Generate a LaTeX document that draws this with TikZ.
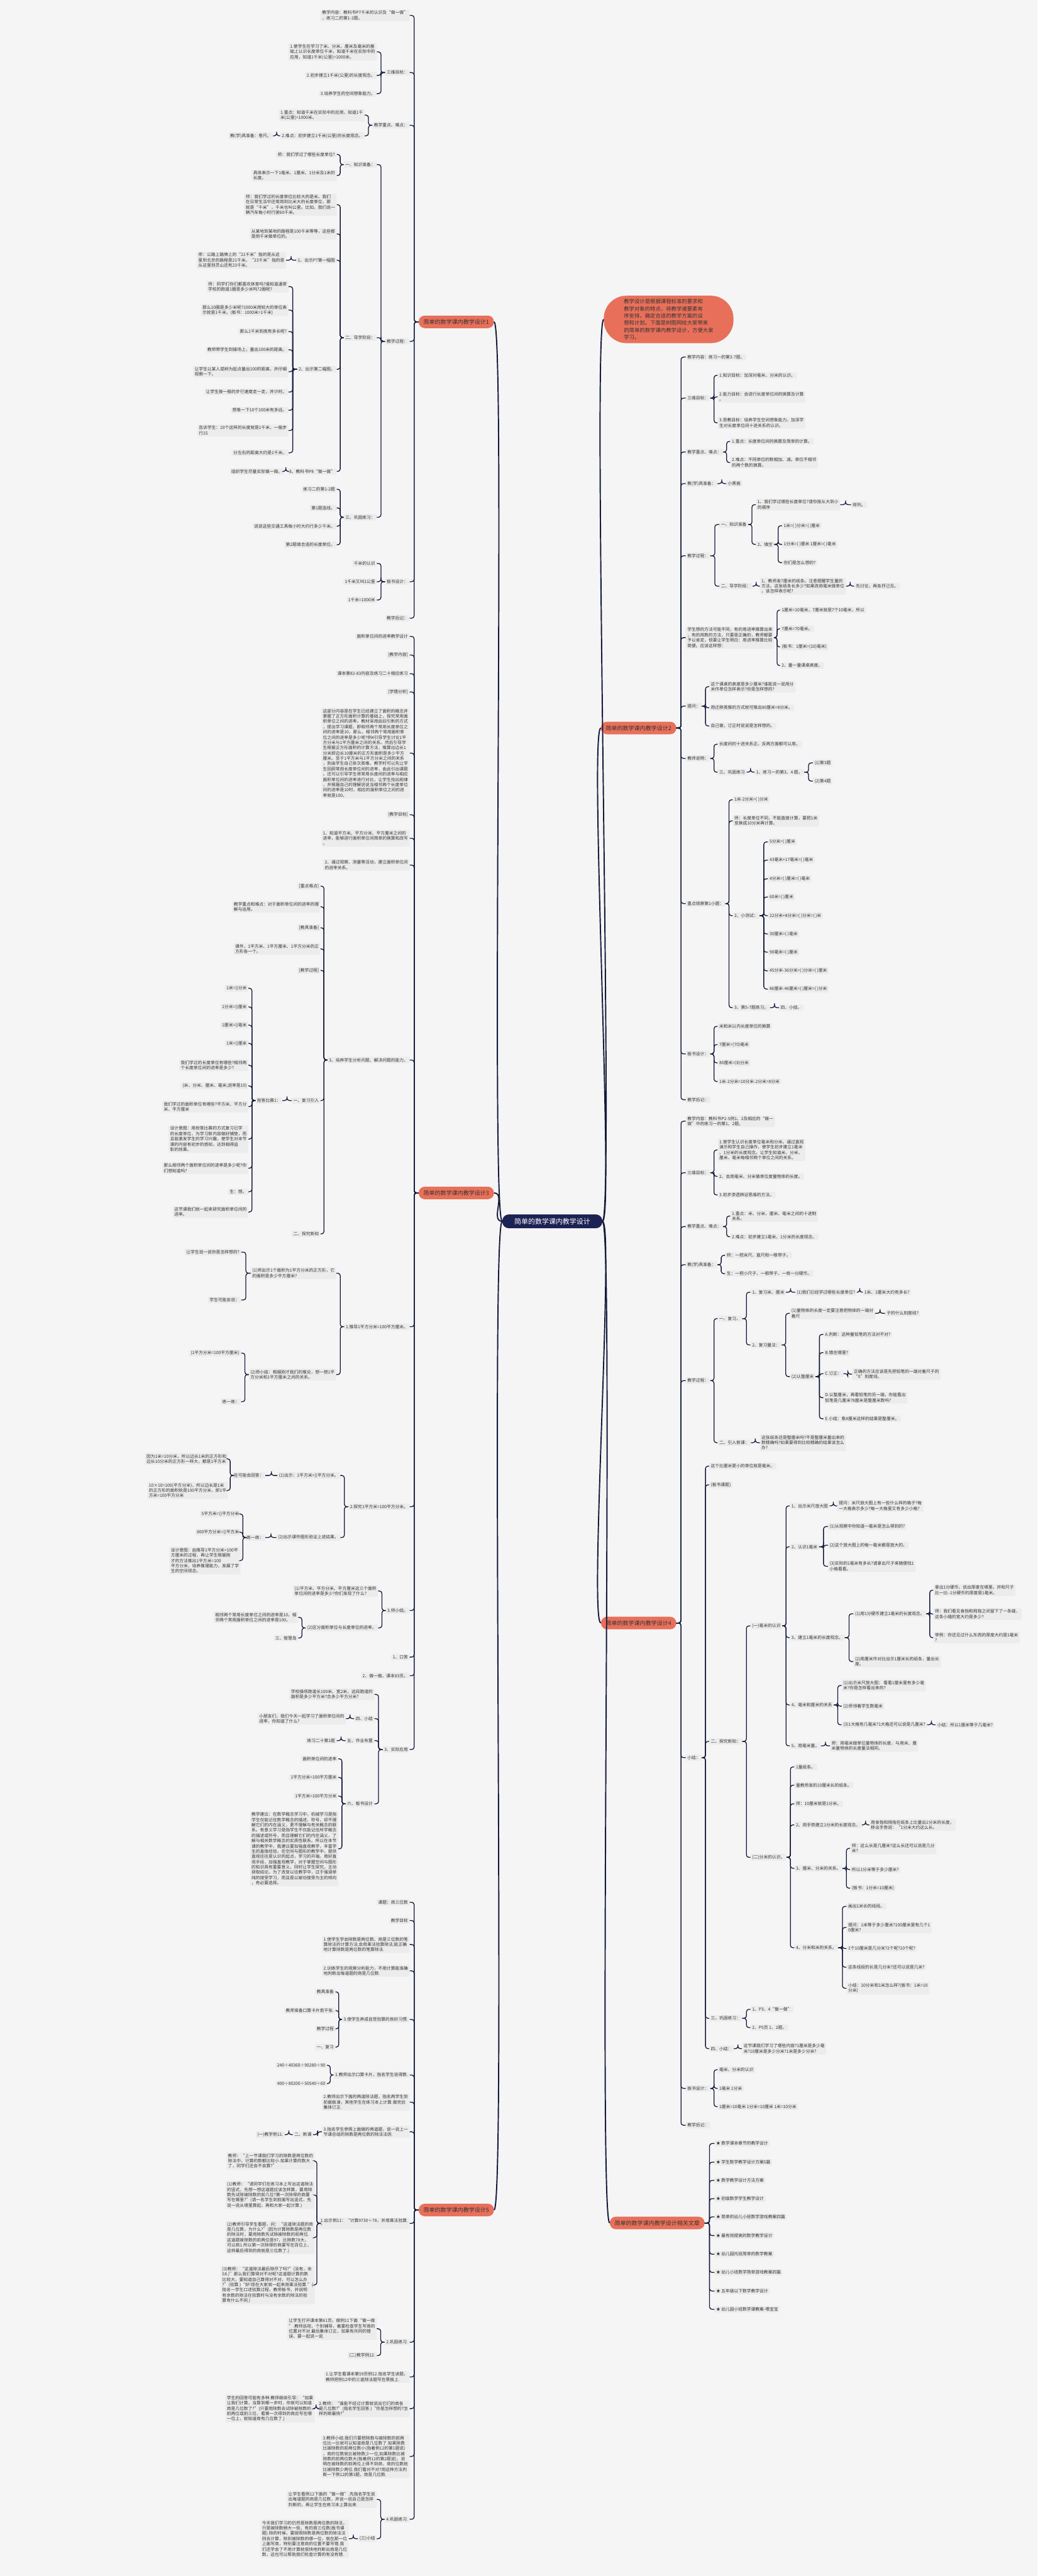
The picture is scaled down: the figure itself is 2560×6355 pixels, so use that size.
\documentclass[tikz,border=0pt]{standalone}
\usepackage{fontspec}
\setmainfont{Noto Sans CJK SC}
\usetikzlibrary{calc}
\definecolor{bgc}{HTML}{F5F5F5}
\definecolor{boxc}{HTML}{ECECEC}
\definecolor{topicc}{HTML}{E8705A}
\definecolor{rootc}{HTML}{1C2354}
\definecolor{linec}{HTML}{151A3C}
\definecolor{txtc}{HTML}{333333}
\newcommand\fs{\fontsize{10.5}{13}\selectfont}
\newcommand\lk[2]{\draw[link] (#1.west) -| ($(#1.west)!.5!(#2.east)$) |- (#2.east);}
\newcommand\rk[2]{\draw[link] (#1.east) -| ($(#1.east)!.5!(#2.west)$) |- (#2.west);}

\begin{document}
\begin{tikzpicture}[x=1pt, y=-1pt,
    box/.style={fill=boxc, text=txtc, inner xsep=4pt, inner ysep=3pt, align=left, font=\fs, rounded corners=2pt},
    lt/.style={box, anchor=east},
    rt/.style={box, anchor=west},
    topic/.style={fill=topicc, text=txtc, rounded corners=15pt, minimum height=31pt, inner xsep=12pt, font=\fontsize{14}{17}\selectfont},
    root/.style={fill=rootc, text=white, rounded corners=16pt, minimum height=34pt, inner xsep=30pt, font=\fontsize{17}{20}\selectfont},
    intro/.style={fill=topicc, text=txtc, rounded corners=56pt, minimum width=320pt, minimum height=117pt, align=left, font=\fontsize{13}{17.7}\selectfont},
    link/.style={draw=linec, line width=2pt, rounded corners=6pt},
    trunk/.style={draw=linec, line width=3pt}
  ]
\useasboundingbox (0,0) rectangle (2560,6355);
\fill[bgc] (0,0) rectangle (2560,6355);

\node[root] (c) at (1363,3013) {简单的数学课内教学设计};
\node[intro] (d) at (1650,788) {教学设计是根据课程标准的要求和\\教学对象的特点，将教学诸要素有\\序安排，确定合适的教学方案的设\\想和计划。下面是树图网给大家带来\\的简单的数学课内教学设计，方便大家\\学习。};
\node[topic,anchor=west] (l1) at (1033,794) {简单的数学课内教学设计1};
\node[topic,anchor=east] (r2) at (1669,1796) {简单的数学课内教学设计2};
\node[topic,anchor=west] (l3) at (1033,2943) {简单的数学课内教学设计3};
\node[topic,anchor=east] (r4) at (1669,4004) {简单的数学课内教学设计4};
\node[topic,anchor=west] (l5) at (1033,5452) {简单的数学课内教学设计5};
\node[topic,anchor=east] (r6) at (1739,5484) {简单的数学课内教学设计相关文章};

% design 1
\node[lt] (l1a) at (1011,38) {教学内容：教科书P7千米的认识及“做一做”\\，练习二的第1-2题。};
\node[lt] (l1b) at (1011,179) {三维目标：};
\node[lt] (l1b1) at (930,128) {1.使学生在学习了米、分米、厘米及毫米的基\\础上认识长度单位千米，知道千米在实际中的\\应用，知道1千米(公里)=1000米。};
\node[lt] (l1b2) at (930,186) {2.初步建立1千米(公里)的长度观念。};
\node[lt] (l1b3) at (930,231) {3.培养学生的空间想象能力。};
\node[lt] (l1c) at (1011,309) {教学重点、难点：};
\node[lt] (l1c1) at (900,284) {1.重点：知道千米在实际中的应用，知道1千\\米(公里)=1000米。};
\node[lt] (l1c2) at (900,335) {2.难点：初步建立1千米(公里)的长度观念。};
\node[lt] (l1c2a) at (674,335) {教(学)具准备：卷尺。};
\node[lt] (l1d) at (1011,842) {教学过程：};
\node[lt] (l1d1) at (930,406) {一、知识准备：};
\node[lt] (l1d1a) at (831,381) {师：我们学过了哪些长度单位?};
\node[lt] (l1d1b) at (831,433) {具体表示一下1毫米、1厘米、1分米及1米的\\长度。};
\node[lt] (l1d2) at (930,833) {二、导学阶段：};
\node[lt] (l1d2a) at (831,505) {师：我们学过的长度单位比较大的是米。我们\\在日常生活中还常用到比米大的长度单位，那\\就是“千米”，千米也叫公里。比如，我们说一\\辆汽车每小时行驶60千米。};
\node[lt] (l1d2b) at (831,577) {从某地到某地的路程是100千米等等，这些都\\是用千米做单位的。};
\node[lt] (l1d2c) at (831,642) {1、出示P7第一幅图};
\node[lt] (l1d2c1) at (706,642) {师：公路上路牌上的“21千米”指的是从这\\里到北京的路程是21千米。“23千米”指的是\\从这里到灵山还有23千米。};
\node[lt] (l1d2d) at (831,911) {2、出示第二幅图。};
\node[lt] (l1d2d1) at (712,707) {师：同学们你们都喜欢体育吗?谁知道通常\\学校的跑道1圈是多少米吗?2圈呢?};
\node[lt] (l1d2d2) at (712,765) {那么10圈是多少米呢?1000米用较大的单位表\\示就是1千米。(板书：1000米=1千米)};
\node[lt] (l1d2d3) at (712,818) {那么1千米到底有多长呢?};
\node[lt] (l1d2d4) at (712,863) {教师带学生到操场上，量出100米的距离。};
\node[lt] (l1d2d5) at (712,917) {让学生以某人或树为起点量出100的距离，并仔细\\观察一下。};
\node[lt] (l1d2d6) at (712,967) {让学生按一般的步行速度走一走，并计时。};
\node[lt] (l1d2d7) at (712,1012) {想象一下10个100米有多远。};
\node[lt] (l1d2d8) at (712,1062) {告诉学生：10个这样的长度就是1千米，一般步\\行15};
\node[lt] (l1d2d9) at (712,1117) {分左右的距离大约是1千米。};
\node[lt] (l1d2e) at (831,1163) {3、教科书P8“做一做”};
\node[lt] (l1d2e1) at (701,1163) {组织学生尽量实际做一做。};
\node[lt] (l1d3) at (930,1276) {三、巩固练习：};
\node[lt] (l1d3a) at (831,1207) {练习二的第1-2题};
\node[lt] (l1d3b) at (831,1253) {第1题连线。};
\node[lt] (l1d3c) at (831,1298) {说说这些交通工具每小时大约行多少千米。};
\node[lt] (l1d3d) at (831,1344) {第2题填合适的长度单位。};
\node[lt] (l1e) at (1011,1435) {板书设计：};
\node[lt] (l1e1) at (930,1390) {千米的认识};
\node[lt] (l1e2) at (930,1435) {1千米又叫1公里};
\node[lt] (l1e3) at (930,1480) {1千米=1000米};
\node[lt] (l1f) at (1011,1525) {教学后记：};

% design 3
\node[lt] (l3a) at (1011,1570) {面积单位间的进率教学设计};
\node[lt] (l3b) at (1011,1616) {[教学内容]};
\node[lt] (l3c) at (1011,1662) {课本第82-83内容及练习二十相应练习};
\node[lt] (l3d) at (1011,1707) {[学情分析]};
\node[lt] (l3e) at (1011,1858) {这部分内容是在学生已经建立了面积的概念并\\掌握了正方形面积计算的基础上，探究常用面\\积单位之间的进率。教材采用由旧引新的方式\\，提出学习课题，即相邻两个常用长度单位之\\间的进率是10，那么，相邻两个常用面积单\\位之间的进率是多少呢?例4引导学生讨论1平\\方分米与1平方厘米之间的关系。然后引导学\\生根据正方形面积的计算方法，推算出边长1\\分米即边长10厘米的正方形面积是多少平方\\厘米。至于1平方米与1平方分米之间的关系\\，则由学生自己依次类推。教学时可以先让学\\生回顾常用长度单位间的进率，由此引出课题\\。还可以引导学生将常用长度间的进率与相应\\面积单位间的进率进行对比，让学生找出规律\\，并根据自己的理解说说当相邻两个长度单位\\间的进率是10时，相应的面积单位之间的进\\率就是100。};
\node[lt] (l3f) at (1011,2010) {[教学目标]};
\node[lt] (l3g) at (1011,2068) {1、知道平方米、平方分米、平方厘米之间的\\进率，能够进行面积单位间简单的换算和改写\\。};
\node[lt] (l3h) at (1011,2134) {2、通过观察、测量等活动，建立面积单位间\\的进率关系。};
\node[lt] (l3i) at (1011,2615) {3、培养学生分析问题、解决问题的能力。};
\node[lt] (l3i1) at (791,2186) {[重点难点]};
\node[lt] (l3i2) at (791,2237) {教学重点和难点：对于面积单位间的进率的理\\解与运用。};
\node[lt] (l3i3) at (791,2289) {[教具准备]};
\node[lt] (l3i4) at (791,2341) {课件，1平方米、1平方厘米、1平方分米的正\\方形各一个。};
\node[lt] (l3i5) at (791,2394) {[教学过程]};
\node[lt] (l3i6) at (791,2715) {一、复习引入};
\node[lt] (l3i6a) at (697,2715) {抢答比赛1：};
\node[lt] (l3q1) at (613,2438) {1米=()分米};
\node[lt] (l3q2) at (613,2484) {1分米=()厘米};
\node[lt] (l3q3) at (613,2529) {1厘米=()毫米};
\node[lt] (l3q4) at (613,2574) {1米=()厘米};
\node[lt] (l3q5) at (613,2628) {我们学过的长度单位有哪些?相邻两\\个长度单位间的进率是多少?};
\node[lt] (l3q6) at (613,2679) {(米、分米、厘米、毫米;进率是10)};
\node[lt] (l3q7) at (613,2730) {我们学过的面积单位有哪些?平方米、平方分\\米、平方厘米};
\node[lt] (l3q8) at (613,2810) {设计意图：用抢答比赛的方式复习已学\\的长度单位，为学习新内容做好铺垫，而\\且能激发学生的学习兴趣，使学生对本节\\课的内容有初步的感知，达到相得益\\彰的效果。};
\node[lt] (l3q9) at (613,2882) {那么相邻两个面积单位间的进率是多少呢?你\\们想知道吗?};
\node[lt] (l3q10) at (613,2940) {生：想。};
\node[lt] (l3q11) at (613,2990) {这节课我们就一起来研究面积单位间的\\进率。};
\node[lt] (l3i7) at (791,3044) {二、探究新知};
\node[lt] (l3j) at (1011,3273) {1.推导1平方分米=100平方厘米。};
\node[lt] (l3j1) at (830,3141) {(1)师出示1个面积为1平方分米的正方形，它\\的面积是多少平方厘米?};
\node[lt] (l3j1a) at (595,3089) {让学生说一说你是怎样想的?};
\node[lt] (l3j1b) at (595,3207) {学生可能会说：};
\node[lt] (l3j2) at (830,3391) {(2)师小结：根据刚才我们的推论，想一想1平\\方分米和1平方厘米之间的关系。};
\node[lt] (l3j2a) at (595,3338) {(1平方分米=100平方厘米)};
\node[lt] (l3j2b) at (595,3458) {练一练：};
\node[lt] (l3k) at (1011,3717) {2.探究1平方米=100平方分米。};
\node[lt] (l3k1) at (840,3640) {(1)出示：1平方米=()平方分米。};
\node[lt] (l3k1a) at (655,3640) {生可能会回答：};
\node[lt] (l3k1a1) at (563,3599) {因为1米=10分米，所以边长1米的正方形和\\边长10分米的正方形一样大，都是1平方米};
\node[lt] (l3k1a2) at (563,3677) {10×10=100(平方分米)，所以边长是1米\\的正方形的面积就是100平方分米，即1平\\方米=100平方分米};
\node[lt] (l3k2) at (840,3793) {(2)出示课件图形验证上述结果。};
\node[lt] (l3k2a) at (655,3793) {练一练：};
\node[lt] (l3k2a1) at (594,3735) {5平方米=()平方分米};
\node[lt] (l3k2a2) at (594,3780) {800平方分米=()平方米};
\node[lt] (l3k2a3) at (594,3850) {设计意图：由推导1平方分米=100平\\方厘米的过程，再让学生根据刚\\才的方法推出1平方米=100\\平方分米，培养推理能力，发展了学\\生的空间观念。};
\node[lt] (l3l) at (1011,3973) {3.师小结。};
\node[lt] (l3l1) at (933,3925) {(1)平方米、平方分米、平方厘米这三个面积\\单位间的进率是多少?你们发现了什么?};
\node[lt] (l3l2) at (933,4016) {(2)区分面积单位与长度单位的进率。};
\node[lt] (l3l2a) at (736,3990) {相邻两个常用长度单位之间的进率是10，相\\邻两个常用面积单位之间的进率是100。};
\node[lt] (l3l2b) at (736,4041) {三、智慧岛};
\node[lt] (l3m) at (1011,4088) {1、口答};
\node[lt] (l3n) at (1011,4134) {2、做一做。课本83页。};
\node[lt] (l3o) at (1011,4316) {3、实际应用};
\node[lt] (l3o1) at (924,4180) {学校操场跑道长100米、宽2米，这段跑道的\\面积是多少平方米?合多少平方分米?};
\node[lt] (l3o2) at (924,4240) {四、小结};
\node[lt] (l3o2a) at (854,4240) {小朋友们，我们今天一起学习了面积单位间的\\进率，你知道了什么?};
\node[lt] (l3o3) at (924,4294) {五、作业布置};
\node[lt] (l3o3a) at (831,4294) {练习二十第1题};
\node[lt] (l3o4) at (924,4450) {六、板书设计};
\node[lt] (l3o4a) at (835,4339) {面积单位间的进率};
\node[lt] (l3o4b) at (835,4385) {1平方分米=100平方厘米};
\node[lt] (l3o4c) at (835,4431) {1平方米=100平方分米};
\node[lt] (l3o4d) at (835,4561) {教学建议：在数学概念学习中，机械学习是指\\学生仅能记住数学概念的描述、符号，却不理\\解它们的内在涵义，更不理解与有关概念的联\\系。有意义学习是指学生不仅能记住所学概念\\的描述或符号，而且理解它们的内在涵义，了\\解与相关数学概念的实质性联系。所以在本节\\课的教学中，我建议要加强直观教学，丰富学\\生的直接经验。在空间与图形的教学中，提供\\直观往往是认识的起点，学习的开端。用好直\\观手段，加强直观教学，对于掌握空间与图形\\的知识具有重要意义。同时让学生探究，主动\\获取结论。为了改变以往教学中，过于强调单\\纯的接受学习，而且是以被动接受为主的倾向\\，有必要选择。};

% design 5
\node[lt] (l5a) at (1011,4693) {课题：商三位数};
\node[lt] (l5b) at (1011,4738) {教学目标};
\node[lt] (l5c) at (1011,4797) {1.使学生学会除数是两位数、商是三位数的笔\\算除法的计算方法;会用乘法验算除法;能正确\\地计算除数是两位数的笔算除法.};
\node[lt] (l5d) at (1011,4862) {2.训练学生的观察分析能力，不用计算能准确\\地判断出每道题的商是几位数.};
\node[lt] (l5e) at (1011,4982) {3.使学生养成自觉验算的良好习惯.};
\node[lt] (l5e1) at (828,4914) {教具准备};
\node[lt] (l5e2) at (828,4960) {教师准备口算卡片若干张.};
\node[lt] (l5e3) at (828,5005) {教学过程};
\node[lt] (l5e4) at (828,5050) {一、复习};
\node[lt] (l5f) at (1011,5119) {1.教师出示口算卡片，指名学生说得数.};
\node[lt] (l5f1) at (807,5095) {240÷40360÷90280÷90};
\node[lt] (l5f2) at (807,5140) {400÷80200÷50540÷60};
\node[lt] (l5g) at (1011,5186) {2.教师出示下面的两道除法题，指名两学生到\\前面板演，其他学生在练习本上计算.做完后\\集体订正.};
\node[lt] (l5h) at (1011,5259) {3.指名学生参照上面做的两道题，说一说上一\\节课总结的除数是两位数的除法法则.};
\node[lt] (l5h1) at (773,5266) {二、新课};
\node[lt] (l5h1a) at (703,5266) {(一)教学例11.};
\node[lt] (l5i) at (1011,5485) {1.出示例11：“计算9730÷78，并用乘法验算.\\”};
\node[lt] (l5i1) at (777,5331) {教师：“上一节课我们学习的除数是两位数的\\除法中，计算的数都比较小.如果计算的数大\\了，同学们还会不会算?”};
\node[lt] (l5i2) at (777,5415) {(1)教师：“请同学们在练习本上写出这道除法\\的竖式，先想一想这道题应该怎样算，要用除\\数先试除被除数的前几位?第一次除得的商要\\写在哪里?”(请一名学生到前面写出竖式，先\\说一说从哪里算起，再和大家一起计算.)};
\node[lt] (l5i3) at (777,5520) {(2)教师引导学生看题，问：“这道除法题的商\\是几位数，为什么?”(因为计算除数是两位数\\的除法时，要用除数先试除被除数的前两位.\\这道题被除数的前两位是97，比除数78大，\\可以商1.所以第一次除得的商要写在百位上，\\这样最后得到的商就是三位数了.)};
\node[lt] (l5i4) at (777,5637) {(3)教师：“这道除法最后除尽了吗?”(没有，余\\58.)”那么我们算得对不对呢?这道题计算的数\\比较大，要知道自己算得对不对，可以怎么办\\?”(验算.)“好!现在大家就一起来用乘法验算.”(\\指名一学生口述验算过程，教师板书，并说明\\有余数的除法在验算时与没有余数的除法的验\\算有什么不同.)};
\node[lt] (l5j) at (1011,5778) {2.巩固练习.};
\node[lt] (l5j1) at (930,5745) {让学生打开课本第61页，做例11下面“做一做\\”.教师巡视，个别辅导，着重检查学生写商的\\位置对不对.最后集体订正，如果有共同的错\\误，要一起说一说.};
\node[lt] (l5j2) at (930,5811) {(二)教学例12.};
\node[lt] (l5k) at (1011,5864) {1.让学生看课本第59页例12.指名学生读题，\\教师把例12中的三道除法题写在黑板上.};
\node[lt] (l5l) at (1011,5942) {2.教师：“谁能不经过计算就说出它们的商各\\是几位数?”(指名学生回答.)“你是怎样想的?怎\\样判断最快?”};
\node[lt] (l5l1) at (777,5942) {学生的回答可能有多种.教师继续引导：“如果\\让我们计算，当算到哪一步时，你就可以知道\\商是几位数了?”(只要用除数去试除被除数的\\前两位或前三位，看第一次得到的商应写在哪\\一位上，就知道商有几位数了.)};
\node[lt] (l5m) at (1011,6060) {3.教师小结.我们只要把除数与被除数的前两\\位比一比就可以知道商是几位数了.如果除数\\比被除数的前两位数小(指着例12的第1题说)\\，商的位数就比被除数少一位;如果除数比被\\除数的前两位数大(指着例12的第2题说)，说\\明在被除数的前两位上得不到商，商的位数就\\比被除数少两位.我们看对不对?用这种方法判\\断一下例12的第3题，商是几位数.};
\node[lt] (l5n) at (1011,6215) {4.巩固练习.};
\node[lt] (l5n1) at (930,6166) {让学生看例12下面的“做一做”.先指名学生说\\出每道题的商是几位数，并说一说自己是怎样\\判断的，再让学生在练习本上算出来.};
\node[lt] (l5n2) at (930,6263) {(三)小结};
\node[lt] (l5n2a) at (861,6263) {今天我们学习的仍然是除数是两位数的除法，\\只是被除数稍大一些，有的商三位数(板书课\\题).除的时候，要按照除数是两位数的除法法\\则去计算，除到被除数的哪一位，就在那一位\\上面写商，特别要注意商的位置不要写错.我\\们还学会了不用计算就很快地判断出商是几位\\数，这也可以帮助我们检查计算的有没有错.};

% design 2
\node[rt] (r2a) at (1692,881) {教学内容：练习一的第3-7题。};
\node[rt] (r2b) at (1692,982) {三维目标：};
\node[rt] (r2b1) at (1771,926) {1.知识目标：加深对毫米、分米的认识。};
\node[rt] (r2b2) at (1771,979) {2.能力目标：会进行长度单位间的换算及计算\\。};
\node[rt] (r2b3) at (1771,1043) {3.思教目标：培养学生空间想象能力。加深学\\生对长度单位间十进关系的认识。};
\node[rt] (r2c) at (1692,1115) {教学重点、难点：};
\node[rt] (r2c1) at (1802,1089) {1.重点：长度单位间的换算及简单的计算。};
\node[rt] (r2c2) at (1802,1141) {2.难点：不同单位的数相加、减。单位不相邻\\的两个数的换算。};
\node[rt] (r2d) at (1692,1193) {教(学)具准备：};
\node[rt] (r2d1) at (1792,1193) {小黑板};
\node[rt] (r2e) at (1692,1371) {教学过程：};
\node[rt] (r2e1) at (1775,1294) {一、知识准备};
\node[rt] (r2e1a) at (1865,1245) {1、我们学过哪些长度单位?请你按从大到小\\的顺序};
\node[rt] (r2e1a1) at (2100,1245) {排列。};
\node[rt] (r2e1b) at (1865,1343) {2、填空};
\node[rt] (r2e1b1) at (1930,1297) {1米=( )分米=( )厘米};
\node[rt] (r2e1b2) at (1930,1343) {1分米=( )厘米 1厘米=( )毫米};
\node[rt] (r2e1b3) at (1930,1388) {你们是怎么想的?};
\node[rt] (r2e2) at (1775,1446) {二、导学阶段：};
\node[rt] (r2e2a) at (1875,1446) {1、教师发7厘米的纸条。注意提醒学生量的\\方法。这张纸条长多少?如果改用毫米做单位\\，该怎样表示呢?};
\node[rt] (r2e2a1) at (2108,1446) {先讨论，再各抒己见。};
\node[rt] (r2f) at (1692,1573) {学生想的方法可能不同，有的用进率推算出来\\，有的用数的方法，只要是正确的，教师都要\\予以肯定，但要让学生明白：用进率推算比较\\简便。应该这样想：};
\node[rt] (r2f1) at (1925,1505) {1厘米=10毫米，7厘米就是7个10毫米，所以};
\node[rt] (r2f2) at (1925,1551) {7厘米=70毫米。};
\node[rt] (r2f3) at (1925,1596) {(板书：1厘米=(10)毫米)};
\node[rt] (r2f4) at (1925,1642) {2、量一量课桌高度。};
\node[rt] (r2g) at (1692,1742) {提问：};
\node[rt] (r2g1) at (1750,1694) {这个课桌的高度是多少厘米?谁能说一说用分\\米作单位怎样表示?你是怎样想的?};
\node[rt] (r2g2) at (1750,1746) {用迁移类推的方式就可推出80厘米=8分米。};
\node[rt] (r2g3) at (1750,1791) {自己做，订正时说说是怎样想的。};
\node[rt] (r2h) at (1692,1871) {教师说明：};
\node[rt] (r2h1) at (1771,1836) {长度间的十进关系正、反两方面都可以用。};
\node[rt] (r2h2) at (1771,1905) {三、巩固练习};
\node[rt] (r2h2a) at (1862,1905) {1、练习一的第3、4 题。};
\node[rt] (r2h2a1) at (2006,1882) {(1)第3题};
\node[rt] (r2h2a2) at (2006,1927) {(2)第4题};
\node[rt] (r2i) at (1692,2229) {重点观察第1小题：};
\node[rt] (r2i1) at (1808,1973) {1米-2分米=( )分米};
\node[rt] (r2i2) at (1808,2025) {师：长度单位不同，不能直接计算，要把1米\\变换成10分米再计算。};
\node[rt] (r2i3) at (1808,2259) {2、小测试：};
\node[rt] (r2t1) at (1895,2077) {5分米=( )厘米};
\node[rt] (r2t2) at (1895,2122) {43毫米+17毫米=( )毫米};
\node[rt] (r2t3) at (1895,2168) {4分米=( )厘米=( )毫米};
\node[rt] (r2t4) at (1895,2213) {60米=( )厘米};
\node[rt] (r2t5) at (1895,2259) {22分米+8分米=( )分米=( )米};
\node[rt] (r2t6) at (1895,2304) {30厘米=( )毫米};
\node[rt] (r2t7) at (1895,2349) {90毫米=( )厘米};
\node[rt] (r2t8) at (1895,2395) {45分米-36分米=( )分米=( )厘米};
\node[rt] (r2t9) at (1895,2440) {86厘米-46厘米=( )厘米=( )分米};
\node[rt] (r2i4) at (1808,2486) {3、第5-7题练习。};
\node[rt] (r2i4a) at (1922,2486) {四、小结。};
\node[rt] (r2j) at (1692,2600) {板书设计：};
\node[rt] (r2j1) at (1771,2532) {米和米以内长度单位的换算};
\node[rt] (r2j2) at (1771,2577) {7厘米=(70)毫米};
\node[rt] (r2j3) at (1771,2622) {80厘米=(8)分米};
\node[rt] (r2j4) at (1771,2668) {1米-2分米=10分米-2分米=8分米};
\node[rt] (r2k) at (1692,2713) {教学后记：};

% design 4
\node[rt] (r4a) at (1692,2766) {教学内容：教科书P2-5例1、2及相应的“做一\\做”中的练习一的第1、2题。};
\node[rt] (r4b) at (1692,2893) {三维目标：};
\node[rt] (r4b1) at (1771,2837) {1.使学生认识长度单位毫米和分米。通过直观\\演示和学生自己操作，使学生初步建立1毫米\\、1分米的长度观念。让学生知道米、分米、\\厘米、毫米每相邻两个单位之间的关系。};
\node[rt] (r4b2) at (1771,2902) {2、会用毫米、分米做单位度量物体的长度。};
\node[rt] (r4b3) at (1771,2948) {3.初步渗透辨证思维的方法。};
\node[rt] (r4c) at (1692,3026) {教学重点、难点：};
\node[rt] (r4c1) at (1802,3000) {1.重点：米、分米、厘米、毫米之间的十进制\\关系。};
\node[rt] (r4c2) at (1802,3051) {2.难点：初步建立1毫米、1分米的长度观念。};
\node[rt] (r4d) at (1692,3120) {教(学)具准备：};
\node[rt] (r4d1) at (1789,3097) {师：一把米尺、直尺和一根带子。};
\node[rt] (r4d2) at (1789,3142) {生：一把小尺子、一根带子、一枚一分硬币。};
\node[rt] (r4e) at (1692,3406) {教学过程：};
\node[rt] (r4e1) at (1771,3253) {一、复习、};
\node[rt] (r4e1a) at (1852,3188) {1、复习米、厘米};
\node[rt] (r4e1a1) at (1962,3188) {(1)我们已经学过哪些长度单位?};
\node[rt] (r4e1a2) at (2129,3188) {1米、1厘米大约有多长?};
\node[rt] (r4e1b) at (1852,3318) {2、复习量法：};
\node[rt] (r4e1b1) at (1949,3240) {(1)量物体的长度一定要注意把物体的一端对\\着尺};
\node[rt] (r4e1b1a) at (2184,3240) {子的什么刻度线?};
\node[rt] (r4e1b2) at (1949,3396) {(2)认整厘米};
\node[rt] (r4m1) at (2032,3292) {A.判断：这种量铅笔的方法对不对?};
\node[rt] (r4m2) at (2032,3337) {B.错在哪里?};
\node[rt] (r4m3) at (2032,3389) {C.订正：};
\node[rt] (r4m3a) at (2103,3390) {正确的方法应该是先把铅笔的一端对着尺子的\\“0”刻度线。};
\node[rt] (r4m4) at (2032,3448) {D.认整厘米，再看铅笔的另一端，你能看出\\铅笔是几厘米?8厘米是整厘米数吗?};
\node[rt] (r4m5) at (2032,3500) {E.小结：象8厘米这样的结果是整厘米。};
\node[rt] (r4e2) at (1771,3559) {二、引入新课：};
\node[rt] (r4e2a) at (1875,3559) {这张纸条还是整厘米吗?不是整厘米量出来的\\数精确吗?如果要得到比较精确的结果该怎么\\办?};
\node[rt] (r4f) at (1692,4336) {小结：};
\node[rt] (r4f1) at (1750,3617) {这个比厘米更小的单位就是毫米。};
\node[rt] (r4f2) at (1750,3663) {(板书课题)};
\node[rt] (r4f3) at (1750,4296) {二、探究新知：};
\node[rt] (r4f3a) at (1852,4011) {(一)毫米的认识};
\node[rt] (r4mm1) at (1949,3715) {1、出示米尺放大图};
\node[rt] (r4mm1a) at (2066,3715) {提问：米尺放大图上有一些什么样的格子?每\\一大格表示多少?每一大格里又有多少小格?};
\node[rt] (r4mm2) at (1949,3816) {2、认识1毫米};
\node[rt] (r4mm2a) at (2043,3766) {(1)从观察中你知道一毫米是怎么得到的?};
\node[rt] (r4mm2b) at (2043,3812) {(2)这个放大图上的每一毫米都是放大的。};
\node[rt] (r4mm2c) at (2043,3864) {(3)实际的1毫米有多长?请拿出尺子来随便找1\\小格看看。};
\node[rt] (r4mm3) at (1949,4040) {3、建立1毫米的长度观念。};
\node[rt] (r4mm3a) at (2106,3981) {(1)用1分硬币建立1毫米的长度观念。};
\node[rt] (r4mm3a1) at (2303,3923) {拿出1分硬币，说出厚度在哪里。并和尺子\\比一比--1分硬币的厚度是1毫米。};
\node[rt] (r4mm3a2) at (2303,3982) {师：我们看见食指和拇指之间留下了一条缝，\\这条小缝的宽大约是多少?};
\node[rt] (r4mm3a3) at (2303,4040) {举例：你还见过什么东西的厚度大约是1毫米\\?};
\node[rt] (r4mm3b) at (2106,4099) {(2)用厘米作对比出示1厘米长的纸条，量出长\\度。};
\node[rt] (r4mm4) at (1949,4206) {4、毫米和厘米的关系};
\node[rt] (r4mm4a) at (2077,4158) {(1)出示米尺放大图：  看看1厘米里有多少毫\\米?你是怎样看出来的?};
\node[rt] (r4mm4b) at (2077,4209) {(2)师领着学生数毫米};
\node[rt] (r4mm4c) at (2077,4255) {(3)1大格有几毫米?1大格还可以说是几厘米?};
\node[rt] (r4mm4c1) at (2309,4255) {小结：所以1厘米等于几毫米?};
\node[rt] (r4mm5) at (1949,4307) {5、用毫米量。};
\node[rt] (r4mm5a) at (2048,4307) {师：用毫米做单位量物体的长度，与用米、厘\\米量物体的长度量法相同。};
\node[rt] (r4f3b) at (1852,4582) {(二)分米的认识。};
\node[rt] (r4dm1) at (1960,4359) {1量纸条。};
\node[rt] (r4dm2) at (1960,4404) {量教师发的10厘米长的纸条。};
\node[rt] (r4dm3) at (1960,4450) {师：10厘米就是1分米。};
\node[rt] (r4dm4) at (1960,4502) {2、用手势建立1分米的长度观念。};
\node[rt] (r4dm4a) at (2145,4502) {用食指和拇指在纸条上比量出1分米的长度，\\移出手势说：“1分米大约这么长。};
\node[rt] (r4dm5) at (1960,4609) {3、厘米、分米的关系。};
\node[rt] (r4dm5a) at (2098,4560) {师：这么长是几厘米?这么长还可以说是几分\\米?};
\node[rt] (r4dm5b) at (2098,4612) {所以1分米等于多少厘米?};
\node[rt] (r4dm5c) at (2098,4658) {(板书：1分米=10厘米)};
\node[rt] (r4dm6) at (1960,4805) {4、分米和米的关系。};
\node[rt] (r4dm6a) at (2089,4703) {画出1米长的线段。};
\node[rt] (r4dm6b) at (2089,4755) {提问：1米等于多少厘米?100厘米里有几个1\\0厘米?};
\node[rt] (r4dm6c) at (2089,4807) {1个10厘米是几分米?2个呢?10个呢?};
\node[rt] (r4dm6d) at (2089,4853) {这条线段的长是几分米?还可以说是几米?};
\node[rt] (r4dm6e) at (2089,4905) {小结：10分米和1米怎么样?(板书：1米=10\\分米)};
\node[rt] (r4f4) at (1750,4979) {三、巩固练习：};
\node[rt] (r4f4a) at (1852,4957) {1、P3、4“做一做”};
\node[rt] (r4f4b) at (1852,5002) {2、P5页 1、2题。};
\node[rt] (r4f5) at (1750,5054) {四、小结：};
\node[rt] (r4f5a) at (1831,5054) {这节课我们学习了哪些内容?1厘米是多少毫\\米?10厘米是多少分米?1米是多少分米?};
\node[rt] (r4g) at (1692,5152) {板书设计：};
\node[rt] (r4g1) at (1771,5106) {毫米、分米的认识};
\node[rt] (r4g2) at (1771,5152) {1毫米 1分米};
\node[rt] (r4g3) at (1771,5197) {1厘米=10毫米 1分米=10厘米 1米=10分米};
\node[rt] (r4h) at (1692,5243) {教学后记：};

% related
\node[rt] (r6a) at (1763,5288) {★ 数学课本章节的教学设计};
\node[rt] (r6b) at (1763,5334) {★ 学生数学教学设计方案5篇};
\node[rt] (r6c) at (1763,5379) {★ 数学教学设计方法方案};
\node[rt] (r6d) at (1763,5424) {★ 初级数学学生教学设计};
\node[rt] (r6e) at (1763,5469) {★ 简单的幼儿小班数学游戏教案四篇};
\node[rt] (r6f) at (1763,5515) {★ 最有效提高的数学教学设计};
\node[rt] (r6g) at (1763,5561) {★ 幼儿园托班简单的数学教案};
\node[rt] (r6h) at (1763,5606) {★ 幼儿小班数学简单游戏教案四篇};
\node[rt] (r6i) at (1763,5652) {★ 五年级以下数学教学设计};
\node[rt] (r6j) at (1763,5697) {★ 幼儿园小班数学课教案-喂宝宝};

% trunk
\draw[trunk] (c.west) .. controls +(-30,0) and +(30,0) .. (l1.east);
\draw[trunk] (c.west) .. controls +(-30,0) and +(30,0) .. (l3.east);
\draw[trunk] (c.west) .. controls +(-30,0) and +(30,0) .. (l5.east);
\draw[trunk] (c.east) .. controls +(30,0) and +(-30,0) .. (d.west);
\draw[trunk] (c.east) .. controls +(30,0) and +(-30,0) .. (r2.west);
\draw[trunk] (c.east) .. controls +(30,0) and +(-30,0) .. (r4.west);
\draw[trunk] (c.east) .. controls +(30,0) and +(-30,0) .. (r6.west);

% links, design 1
\lk{l1}{l1a} \lk{l1}{l1b} \lk{l1}{l1c} \lk{l1}{l1d} \lk{l1}{l1e} \lk{l1}{l1f}
\lk{l1b}{l1b1} \lk{l1b}{l1b2} \lk{l1b}{l1b3}
\lk{l1c}{l1c1} \lk{l1c}{l1c2} \lk{l1c2}{l1c2a}
\lk{l1d}{l1d1} \lk{l1d}{l1d2} \lk{l1d}{l1d3}
\lk{l1d1}{l1d1a} \lk{l1d1}{l1d1b}
\lk{l1d2}{l1d2a} \lk{l1d2}{l1d2b} \lk{l1d2}{l1d2c} \lk{l1d2}{l1d2d} \lk{l1d2}{l1d2e}
\lk{l1d2c}{l1d2c1} \lk{l1d2e}{l1d2e1}
\lk{l1d2d}{l1d2d1} \lk{l1d2d}{l1d2d2} \lk{l1d2d}{l1d2d3} \lk{l1d2d}{l1d2d4} \lk{l1d2d}{l1d2d5}
\lk{l1d2d}{l1d2d6} \lk{l1d2d}{l1d2d7} \lk{l1d2d}{l1d2d8} \lk{l1d2d}{l1d2d9}
\lk{l1d3}{l1d3a} \lk{l1d3}{l1d3b} \lk{l1d3}{l1d3c} \lk{l1d3}{l1d3d}
\lk{l1e}{l1e1} \lk{l1e}{l1e2} \lk{l1e}{l1e3}

% links, design 3
\lk{l3}{l3a} \lk{l3}{l3b} \lk{l3}{l3c} \lk{l3}{l3d} \lk{l3}{l3e} \lk{l3}{l3f} \lk{l3}{l3g} \lk{l3}{l3h}
\lk{l3}{l3i} \lk{l3}{l3j} \lk{l3}{l3k} \lk{l3}{l3l} \lk{l3}{l3m} \lk{l3}{l3n} \lk{l3}{l3o}
\lk{l3i}{l3i1} \lk{l3i}{l3i2} \lk{l3i}{l3i3} \lk{l3i}{l3i4} \lk{l3i}{l3i5} \lk{l3i}{l3i6} \lk{l3i}{l3i7}
\lk{l3i6}{l3i6a}
\lk{l3i6a}{l3q1} \lk{l3i6a}{l3q2} \lk{l3i6a}{l3q3} \lk{l3i6a}{l3q4} \lk{l3i6a}{l3q5} \lk{l3i6a}{l3q6}
\lk{l3i6a}{l3q7} \lk{l3i6a}{l3q8} \lk{l3i6a}{l3q9} \lk{l3i6a}{l3q10} \lk{l3i6a}{l3q11}
\lk{l3j}{l3j1} \lk{l3j}{l3j2} \lk{l3j1}{l3j1a} \lk{l3j1}{l3j1b} \lk{l3j2}{l3j2a} \lk{l3j2}{l3j2b}
\lk{l3k}{l3k1} \lk{l3k}{l3k2} \lk{l3k1}{l3k1a} \lk{l3k1a}{l3k1a1} \lk{l3k1a}{l3k1a2}
\lk{l3k2}{l3k2a} \lk{l3k2a}{l3k2a1} \lk{l3k2a}{l3k2a2} \lk{l3k2a}{l3k2a3}
\lk{l3l}{l3l1} \lk{l3l}{l3l2} \lk{l3l2}{l3l2a} \lk{l3l2}{l3l2b}
\lk{l3o}{l3o1} \lk{l3o}{l3o2} \lk{l3o}{l3o3} \lk{l3o}{l3o4}
\lk{l3o2}{l3o2a} \lk{l3o3}{l3o3a}
\lk{l3o4}{l3o4a} \lk{l3o4}{l3o4b} \lk{l3o4}{l3o4c} \lk{l3o4}{l3o4d}

% links, design 5
\lk{l5}{l5a} \lk{l5}{l5b} \lk{l5}{l5c} \lk{l5}{l5d} \lk{l5}{l5e} \lk{l5}{l5f} \lk{l5}{l5g}
\lk{l5}{l5h} \lk{l5}{l5i} \lk{l5}{l5j} \lk{l5}{l5k} \lk{l5}{l5l} \lk{l5}{l5m} \lk{l5}{l5n}
\lk{l5e}{l5e1} \lk{l5e}{l5e2} \lk{l5e}{l5e3} \lk{l5e}{l5e4}
\lk{l5f}{l5f1} \lk{l5f}{l5f2}
\lk{l5h}{l5h1} \lk{l5h1}{l5h1a}
\lk{l5i}{l5i1} \lk{l5i}{l5i2} \lk{l5i}{l5i3} \lk{l5i}{l5i4}
\lk{l5j}{l5j1} \lk{l5j}{l5j2}
\lk{l5l}{l5l1}
\lk{l5n}{l5n1} \lk{l5n}{l5n2} \lk{l5n2}{l5n2a}

% links, design 2
\rk{r2}{r2a} \rk{r2}{r2b} \rk{r2}{r2c} \rk{r2}{r2d} \rk{r2}{r2e} \rk{r2}{r2f}
\rk{r2}{r2g} \rk{r2}{r2h} \rk{r2}{r2i} \rk{r2}{r2j} \rk{r2}{r2k}
\rk{r2b}{r2b1} \rk{r2b}{r2b2} \rk{r2b}{r2b3}
\rk{r2c}{r2c1} \rk{r2c}{r2c2} \rk{r2d}{r2d1}
\rk{r2e}{r2e1} \rk{r2e}{r2e2}
\rk{r2e1}{r2e1a} \rk{r2e1}{r2e1b} \rk{r2e1a}{r2e1a1}
\rk{r2e1b}{r2e1b1} \rk{r2e1b}{r2e1b2} \rk{r2e1b}{r2e1b3}
\rk{r2e2}{r2e2a} \rk{r2e2a}{r2e2a1}
\rk{r2f}{r2f1} \rk{r2f}{r2f2} \rk{r2f}{r2f3} \rk{r2f}{r2f4}
\rk{r2g}{r2g1} \rk{r2g}{r2g2} \rk{r2g}{r2g3}
\rk{r2h}{r2h1} \rk{r2h}{r2h2} \rk{r2h2}{r2h2a} \rk{r2h2a}{r2h2a1} \rk{r2h2a}{r2h2a2}
\rk{r2i}{r2i1} \rk{r2i}{r2i2} \rk{r2i}{r2i3} \rk{r2i}{r2i4} \rk{r2i4}{r2i4a}
\rk{r2i3}{r2t1} \rk{r2i3}{r2t2} \rk{r2i3}{r2t3} \rk{r2i3}{r2t4} \rk{r2i3}{r2t5}
\rk{r2i3}{r2t6} \rk{r2i3}{r2t7} \rk{r2i3}{r2t8} \rk{r2i3}{r2t9}
\rk{r2j}{r2j1} \rk{r2j}{r2j2} \rk{r2j}{r2j3} \rk{r2j}{r2j4}

% links, design 4
\rk{r4}{r4a} \rk{r4}{r4b} \rk{r4}{r4c} \rk{r4}{r4d} \rk{r4}{r4e} \rk{r4}{r4f} \rk{r4}{r4g} \rk{r4}{r4h}
\rk{r4b}{r4b1} \rk{r4b}{r4b2} \rk{r4b}{r4b3}
\rk{r4c}{r4c1} \rk{r4c}{r4c2} \rk{r4d}{r4d1} \rk{r4d}{r4d2}
\rk{r4e}{r4e1} \rk{r4e}{r4e2} \rk{r4e2}{r4e2a}
\rk{r4e1}{r4e1a} \rk{r4e1}{r4e1b} \rk{r4e1a}{r4e1a1} \rk{r4e1a1}{r4e1a2}
\rk{r4e1b}{r4e1b1} \rk{r4e1b}{r4e1b2} \rk{r4e1b1}{r4e1b1a}
\rk{r4e1b2}{r4m1} \rk{r4e1b2}{r4m2} \rk{r4e1b2}{r4m3} \rk{r4e1b2}{r4m4} \rk{r4e1b2}{r4m5}
\rk{r4m3}{r4m3a}
\rk{r4f}{r4f1} \rk{r4f}{r4f2} \rk{r4f}{r4f3} \rk{r4f}{r4f4} \rk{r4f}{r4f5}
\rk{r4f3}{r4f3a} \rk{r4f3}{r4f3b}
\rk{r4f3a}{r4mm1} \rk{r4f3a}{r4mm2} \rk{r4f3a}{r4mm3} \rk{r4f3a}{r4mm4} \rk{r4f3a}{r4mm5}
\rk{r4mm1}{r4mm1a}
\rk{r4mm2}{r4mm2a} \rk{r4mm2}{r4mm2b} \rk{r4mm2}{r4mm2c}
\rk{r4mm3}{r4mm3a} \rk{r4mm3}{r4mm3b}
\rk{r4mm3a}{r4mm3a1} \rk{r4mm3a}{r4mm3a2} \rk{r4mm3a}{r4mm3a3}
\rk{r4mm4}{r4mm4a} \rk{r4mm4}{r4mm4b} \rk{r4mm4}{r4mm4c} \rk{r4mm4c}{r4mm4c1}
\rk{r4mm5}{r4mm5a}
\rk{r4f3b}{r4dm1} \rk{r4f3b}{r4dm2} \rk{r4f3b}{r4dm3} \rk{r4f3b}{r4dm4} \rk{r4f3b}{r4dm5} \rk{r4f3b}{r4dm6}
\rk{r4dm4}{r4dm4a}
\rk{r4dm5}{r4dm5a} \rk{r4dm5}{r4dm5b} \rk{r4dm5}{r4dm5c}
\rk{r4dm6}{r4dm6a} \rk{r4dm6}{r4dm6b} \rk{r4dm6}{r4dm6c} \rk{r4dm6}{r4dm6d} \rk{r4dm6}{r4dm6e}
\rk{r4f4}{r4f4a} \rk{r4f4}{r4f4b} \rk{r4f5}{r4f5a}
\rk{r4g}{r4g1} \rk{r4g}{r4g2} \rk{r4g}{r4g3}

% links, related
\rk{r6}{r6a} \rk{r6}{r6b} \rk{r6}{r6c} \rk{r6}{r6d} \rk{r6}{r6e}
\rk{r6}{r6f} \rk{r6}{r6g} \rk{r6}{r6h} \rk{r6}{r6i} \rk{r6}{r6j}
\end{tikzpicture}
\end{document}
